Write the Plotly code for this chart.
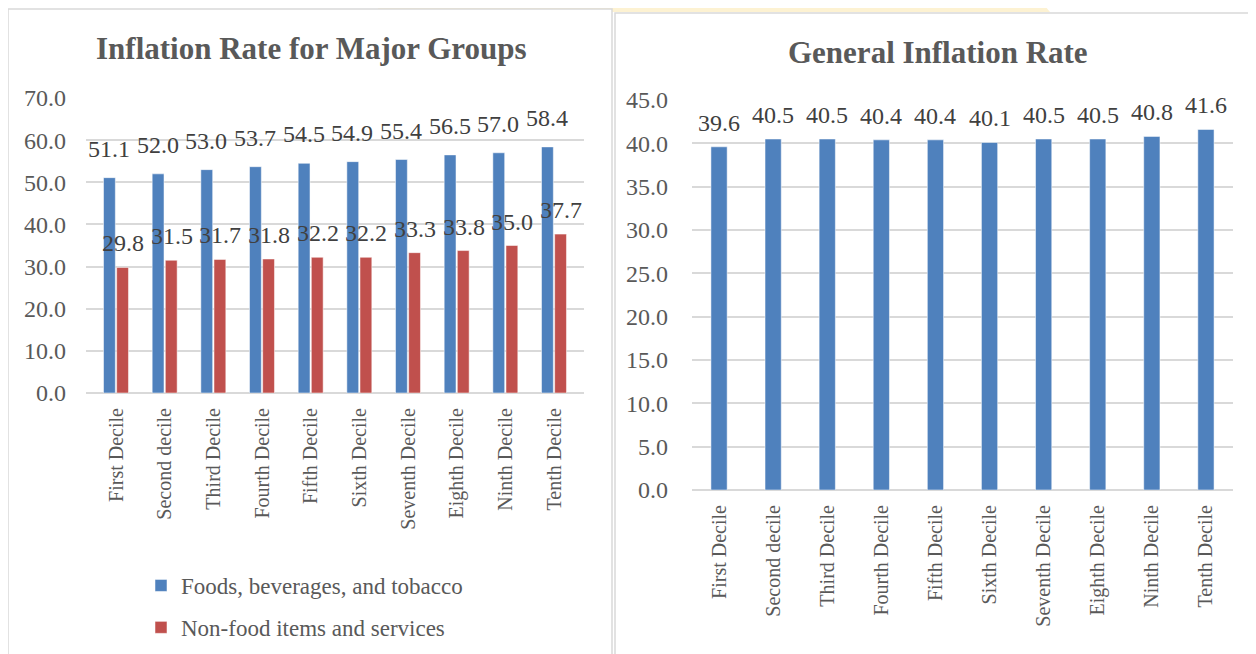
import plotly.graph_objects as go

# the page places the figure 8px in from the top-left corner, so the
# figure is 8px smaller and all target pixel positions are shifted by 8
OFF = 8
W, H = 1256 - OFF, 654 - OFF

categories = ["First Decile", "Second decile", "Third Decile", "Fourth Decile", "Fifth Decile",
              "Sixth Decile", "Seventh Decile", "Eighth Decile", "Ninth Decile", "Tenth Decile"]
food = [51.1, 52.0, 53.0, 53.7, 54.5, 54.9, 55.4, 56.5, 57.0, 58.4]
nonfood = [29.8, 31.5, 31.7, 31.8, 32.2, 32.2, 33.3, 33.8, 35.0, 37.7]
general = [39.6, 40.5, 40.5, 40.4, 40.4, 40.1, 40.5, 40.5, 40.8, 41.6]

left_ticks = [0, 10, 20, 30, 40, 50, 60, 70]
right_ticks = [0, 5, 10, 15, 20, 25, 30, 35, 40, 45]

BLUE = "#4f81bd"
RED = "#c0504d"
GRID = "#d9d9d9"
TXT = "#595959"
LBL = "#404040"
FONT = "Liberation Serif"


def px(x):
    return (x - OFF) / W


def py(y):
    return 1 - (y - OFF) / H


fig = go.Figure()
fig.add_trace(go.Bar(x=categories, y=food, name="Foods, beverages, and tobacco",
                     marker=dict(color=BLUE, line=dict(color="rgba(255,255,255,0.5)", width=1)),
                     xaxis="x", yaxis="y", legendgroup="a"))
fig.add_trace(go.Bar(x=categories, y=nonfood, name="Non-food items and services",
                     marker=dict(color=RED, line=dict(color="rgba(255,255,255,0.5)", width=1)),
                     xaxis="x", yaxis="y", legendgroup="b"))
fig.add_trace(go.Bar(x=categories, y=general, name="General",
                     marker=dict(color=BLUE, line=dict(color="rgba(255,255,255,0.5)", width=1)),
                     xaxis="x2", yaxis="y2", showlegend=False, width=0.3))

annotations = []
for c, v in zip(categories, food):
    annotations.append(dict(x=c, y=v, xref="x", yref="y", text=f"{v:.1f}", showarrow=False,
                            yanchor="bottom", yshift=14, xshift=-7,
                            font=dict(family=FONT, size=24, color=LBL)))
for c, v in zip(categories, nonfood):
    annotations.append(dict(x=c, y=v, xref="x", yref="y", text=f"{v:.1f}", showarrow=False,
                            yanchor="bottom", yshift=9, xshift=7,
                            font=dict(family=FONT, size=24, color=LBL)))
for c, v in zip(categories, general):
    annotations.append(dict(x=c, y=v, xref="x2", yref="y2", text=f"{v:.1f}", showarrow=False,
                            yanchor="bottom", yshift=9,
                            font=dict(family=FONT, size=24, color=LBL)))

annotations.append(dict(x=px(311), y=py(48), xref="paper", yref="paper", showarrow=False,
                        text="<b>Inflation Rate for Major Groups</b>", xanchor="center", yanchor="middle",
                        font=dict(family=FONT, size=31, color=TXT)))
annotations.append(dict(x=px(938), y=py(52), xref="paper", yref="paper", showarrow=False,
                        text="<b>General Inflation Rate</b>", xanchor="center", yanchor="middle",
                        font=dict(family=FONT, size=31, color=TXT)))

shapes = [
    dict(type="path", xref="paper", yref="paper", layer="below",
         path=f"M {px(385)} {py(0)} L {px(1040)} {py(0)} L {px(1050)} {py(12)} L {px(375)} {py(12)} Z",
         fillcolor="#fdf2d2", line=dict(width=0)),
    dict(type="rect", xref="paper", yref="paper", layer="below",
         x0=px(8), y0=py(664), x1=px(612), y1=py(9),
         fillcolor="white", line=dict(color=GRID, width=1.5)),
    dict(type="rect", xref="paper", yref="paper", layer="below",
         x0=px(615), y0=py(664), x1=px(1266), y1=py(13),
         fillcolor="white", line=dict(color=GRID, width=1.5)),
]

ytickfont = dict(family=FONT, size=24, color=TXT)
xtickfont = dict(family=FONT, size=20, color=TXT)

fig.update_layout(
    width=W, height=H,
    margin=dict(l=0, r=0, t=0, b=0, pad=0, autoexpand=False),
    paper_bgcolor="white", plot_bgcolor="rgba(0,0,0,0)",
    barmode="group", bargap=0.46, bargroupgap=0.1,
    showlegend=True,
    legend=dict(x=px(141), y=py(564), xanchor="left", yanchor="top",
                font=dict(family=FONT, size=23, color=TXT), tracegroupgap=9,
                bgcolor="rgba(0,0,0,0)"),
    xaxis=dict(domain=[px(86), px(584)], anchor="y", type="category", tickangle=-90,
               tickfont=xtickfont, showgrid=False, showline=False, ticks="", ticklabelstandoff=10),
    yaxis=dict(domain=[py(393), py(98)], anchor="x", range=[0, 70], tickvals=left_ticks,
               ticktext=[f"{t:.1f}" for t in left_ticks], tickfont=ytickfont,
               showgrid=True, gridcolor=GRID, gridwidth=1.5, zeroline=True, zerolinecolor=GRID,
               zerolinewidth=1.5, showline=False, ticks="", ticklabelstandoff=19),
    xaxis2=dict(domain=[px(692), px(1233)], anchor="y2", type="category", tickangle=-90,
                tickfont=xtickfont, showgrid=False, showline=False, ticks="", ticklabelstandoff=10),
    yaxis2=dict(domain=[py(490), py(100)], anchor="x2", range=[0, 45], tickvals=right_ticks,
                ticktext=[f"{t:.1f}" for t in right_ticks], tickfont=ytickfont,
                showgrid=True, gridcolor=GRID, gridwidth=1.5, zeroline=True, zerolinecolor=GRID,
                zerolinewidth=1.5, showline=False, ticks="", ticklabelstandoff=23),
    annotations=annotations,
    shapes=shapes,
)

fig.write_html("out.html")
